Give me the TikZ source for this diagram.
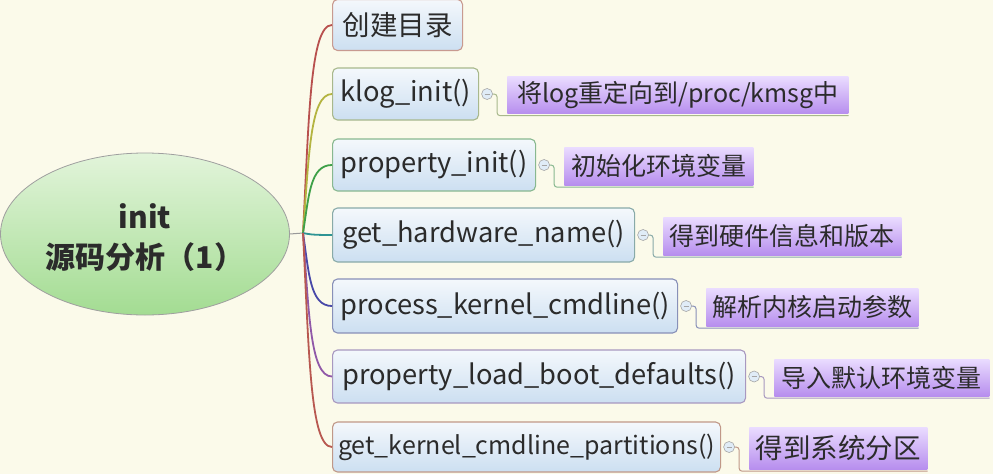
\documentclass[tikz,border=0pt]{standalone}
\usepackage{fontspec}
\setmainfont{Noto Sans CJK SC}
\usetikzlibrary{shapes.geometric,calc}
\definecolor{bg}{HTML}{FBFAEA}
\definecolor{txt}{HTML}{2B2B2B}
\definecolor{boxtop}{HTML}{F4F8FC}
\definecolor{boxbot}{HTML}{CCDFF1}
\definecolor{labtop}{HTML}{EADCFF}
\definecolor{labbot}{HTML}{B78EEE}
\definecolor{elltop}{HTML}{E2F4DA}
\definecolor{ellbot}{HTML}{A3DC92}
\definecolor{ca}{HTML}{B8504E}\definecolor{ba}{HTML}{C89A90}
\definecolor{cb}{HTML}{B4B440}\definecolor{bb}{HTML}{A8B88C}
\definecolor{cc}{HTML}{3EA048}\definecolor{bc}{HTML}{88B890}
\definecolor{cd}{HTML}{2E9494}\definecolor{bd}{HTML}{88AAA8}
\definecolor{ce}{HTML}{4848A8}\definecolor{be}{HTML}{8890B8}
\definecolor{cf}{HTML}{9058A8}\definecolor{bf}{HTML}{A898C0}
\definecolor{cg}{HTML}{B85850}\definecolor{bg2}{HTML}{C09888}
\begin{document}
\begin{tikzpicture}[x=1pt,y=-1pt,
  fbox/.style={draw=#1, line width=1.1pt, rounded corners=5pt, top color=boxtop, bottom color=boxbot,
    minimum height=52pt, inner sep=0pt, anchor=west, font=\fontsize{27.3}{32}\selectfont, text=txt},
  labbox/.style={top color=labtop, bottom color=labbot, minimum height=37pt, inner sep=0pt,
    anchor=west, font=\fontsize{25}{30}\selectfont, text=txt},
  knob/.style={circle, draw=gray!70, fill=boxbot!60, line width=0.6pt, minimum size=11pt, inner sep=0pt},
  branch/.style={draw=#1, line width=1.8pt},
  under/.style={draw=#1, line width=1pt, rounded corners=3pt}]
\useasboundingbox (0,0) rectangle (993,474);
\fill[bg] (0,0) rectangle (993,474);

% central ellipse
\node[ellipse, draw=gray!75, line width=0.8pt, top color=elltop, bottom color=ellbot,
  minimum width=289pt, minimum height=162pt, inner sep=0pt] (root) at (145,234) {};
\node[text=txt, font=\fontsize{30}{40}\selectfont\bfseries, align=center] (roottext) at (145,238) {init\\源码分析（1）};
\coordinate (hub) at (303,233);
\draw[gray!80, line width=1pt] (root.east) -- (hub);

% function boxes
\node[fbox=ba, minimum width=130pt, minimum height=51pt, font=\fontsize{27.5}{32}\selectfont] (b1) at (332,25) {创建目录};
\node[fbox=bb, minimum width=146pt] (b2) at (332,94) {klog\_init()};
\node[fbox=bc, minimum width=203pt] (b3) at (332,165) {property\_init()};
\node[fbox=bd, minimum width=302pt, minimum height=54pt] (b4) at (332,235) {get\_hardware\_name()};
\node[fbox=be, minimum width=345pt, minimum height=54pt] (b5) at (332,306) {process\_kernel\_cmdline()};
\node[fbox=bf, minimum width=413pt, minimum height=53pt] (b6) at (332,376.5) {property\_load\_boot\_defaults()};
\node[fbox=bg2, minimum width=388pt, minimum height=50pt, font=\fontsize{25}{30}\selectfont] (b7) at (332,447) {get\_kernel\_cmdline\_partitions()};

% branches
\foreach \b/\c in {b1/ca,b2/cb,b3/cc,b4/cd,b5/ce,b6/cf,b7/cg}{
  \draw[branch=\c] (hub) .. controls ($(hub)!0.55!(hub|-\b.west)+(6,0)$) and ($(\b.west)+(-22,0)$) .. (\b.west);
}

% descriptions
\foreach \b/\l/\w/\h/\f/\t/\c in {b2/l2/341/37/25/{将log重定向到/proc/kmsg中}/bb,
                        b3/l3/189/38/25/{初始化环境变量}/bc,
                        b4/l4/238/38/25/{得到硬件信息和版本}/bd,
                        b5/l5/212/38/25/{解析内核启动参数}/be,
                        b6/l6/215/37/25/{导入默认环境变量}/bf,
                        b7/l7/178/42/27.5/{得到系统分区}/bg2}{
  \node[labbox, minimum width=\w pt, minimum height=\h pt, font=\fontsize{\f}{30}\selectfont] (\l) at ($(\b.east)+(28,1)$) {\t};
  \node[knob] (k\b) at ($(\b.east)+(8,0)$) {};
  \draw[gray!70, line width=0.8pt] ($(k\b.center)+(-2.5,0)$) -- ($(k\b.center)+(2.5,0)$);
  \coordinate (u\b) at ($(\l.south west)+(-10,2)$);
  \draw[under=\c] (k\b.east) -| (u\b) -- (\l.south east |- u\b);
}
\end{tikzpicture}
\end{document}
